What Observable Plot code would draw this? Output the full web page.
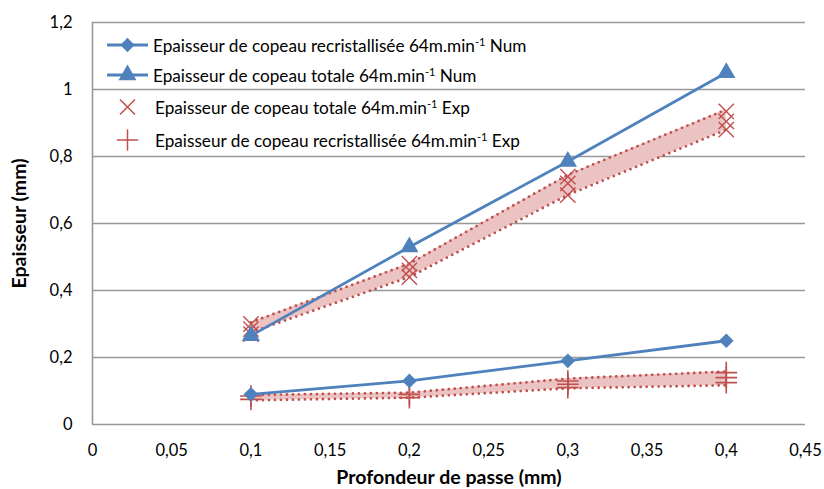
<!DOCTYPE html>
<html>
<head>
<meta charset="utf-8">
<script src="https://cdn.jsdelivr.net/npm/d3@7"></script>
<script src="https://cdn.jsdelivr.net/npm/@observablehq/plot@0.6"></script>
<style>
  html, body { margin: 0; padding: 0; background: #fff; }
  #wrap { position: relative; width: 824px; height: 489px; font-family: Lato, "Open Sans", sans-serif; }
  #wrap svg [aria-label="y-axis label"] text, #wrap svg [aria-label="x-axis label"] text { font-weight: bold; font-size: 19.5px; }
  #legend { position: absolute; left: 105px; top: 29px; font-size: 17.2px; color: #000; }
  .row { position: absolute; left: 0; height: 32px; white-space: nowrap; display: flex; align-items: center; }
  .row svg { flex: none; }
  .row span { margin-left: 4px; }
  sup { font-size: 11px; vertical-align: 6px; line-height: 0; }
</style>
</head>
<body>
<div id="wrap"></div>
<script>
// ---- data ----
const xs = [0.1, 0.2, 0.3, 0.4];
const numRecrist = [0.09, 0.13, 0.19, 0.25];
const numTotale = [0.265, 0.53, 0.785, 1.05];

const expTotaleX = [0.1, 0.1, 0.1, 0.2, 0.2, 0.2, 0.3, 0.3, 0.3, 0.4, 0.4, 0.4];
const expTotaleY = [0.30, 0.285, 0.27, 0.48, 0.46, 0.44, 0.74, 0.72, 0.685, 0.935, 0.905, 0.88];
const expTotaleHigh = [0.305, 0.48, 0.745, 0.94];
const expTotaleLow = [0.275, 0.44, 0.685, 0.88];

const expRecristX = [0.1, 0.1, 0.2, 0.2, 0.3, 0.3, 0.3, 0.4, 0.4, 0.4];
const expRecristY = [0.085, 0.075, 0.09, 0.08, 0.13, 0.12, 0.11, 0.155, 0.14, 0.125];
const expRecristHigh = [0.088, 0.095, 0.137, 0.158];
const expRecristLow = [0.072, 0.08, 0.108, 0.117];

const xTicks = [0, 0.05, 0.1, 0.15, 0.2, 0.25, 0.3, 0.35, 0.4, 0.45];
const yTicks = [0, 0.2, 0.4, 0.6, 0.8, 1, 1.2];

const legendLabels = [
  "Epaisseur de copeau recristallisée 64m.min<sup>-1</sup> Num",
  "Epaisseur de copeau totale 64m.min<sup>-1</sup> Num",
  "Epaisseur de copeau totale 64m.min<sup>-1</sup> Exp",
  "Epaisseur de copeau recristallisée 64m.min<sup>-1</sup> Exp"
];

// ---- tables ----
const num = xs.map((x, i) => ({x, rec: numRecrist[i], tot: numTotale[i]}));
const bandTot = xs.map((x, i) => ({x, lo: expTotaleLow[i], hi: expTotaleHigh[i]}));
const bandRec = xs.map((x, i) => ({x, lo: expRecristLow[i], hi: expRecristHigh[i]}));
const ptsTot = expTotaleX.map((x, i) => ({x, y: expTotaleY[i]}));
const ptsRec = expRecristX.map((x, i) => ({x, y: expRecristY[i]}));

const BLUE = "#4F81BD", RED = "#C0504D", PINK = "#EBC3C2", GRID = "#989898";
const fmt = d => String(d).replace(".", ",");
const dotted = {stroke: RED, strokeWidth: 2.8, strokeDasharray: "0,6", strokeLinecap: "round"};

const chart = Plot.plot({
  width: 824, height: 489,
  marginLeft: 92, marginRight: 19, marginTop: 22, marginBottom: 65,
  style: {fontFamily: "Lato, 'Open Sans', sans-serif", fontSize: "16.5px", color: "#000", background: "#fff"},
  x: {domain: [0, 0.45]},
  y: {domain: [0, 1.2]},
  marks: [
    Plot.gridY(yTicks, {stroke: GRID, strokeOpacity: 1, strokeWidth: 1.6}),
    Plot.ruleX([0], {stroke: GRID, strokeWidth: 1.6}),
    Plot.axisX({ticks: xTicks, tickFormat: fmt, tickSize: 0, tickPadding: 20, label: "Profondeur de passe (mm)", labelAnchor: "center", labelOffset: 59, labelArrow: "none"}),
    Plot.axisY({ticks: yTicks, tickFormat: fmt, tickSize: 0, tickPadding: 20, label: "Epaisseur (mm)", labelAnchor: "center", labelOffset: 80, labelArrow: "none"}),
    // bands
    Plot.areaY(bandTot, {x: "x", y1: "lo", y2: "hi", fill: PINK}),
    Plot.areaY(bandRec, {x: "x", y1: "lo", y2: "hi", fill: PINK}),
    Plot.line(bandTot, {x: "x", y: "hi", ...dotted}),
    Plot.line(bandTot, {x: "x", y: "lo", ...dotted}),
    Plot.line(bandRec, {x: "x", y: "hi", ...dotted}),
    Plot.line(bandRec, {x: "x", y: "lo", ...dotted}),
    // exp markers
    Plot.dot(ptsTot, {x: "x", y: "y", symbol: "times", r: 7, stroke: RED, strokeWidth: 1.4}),
    Plot.dot(ptsRec, {x: "x", y: "y", symbol: "plus", r: 7, stroke: RED, strokeWidth: 1.6}),
    // num lines
    Plot.line(num, {x: "x", y: "rec", stroke: BLUE, strokeWidth: 2.8}),
    Plot.line(num, {x: "x", y: "tot", stroke: BLUE, strokeWidth: 2.8}),
    Plot.dot(num, {x: "x", y: "rec", symbol: "diamond2", r: 6.6, fill: BLUE, stroke: "none"}),
    Plot.dot(num, {x: "x", y: "tot", symbol: "triangle", r: 6.8, fill: BLUE, stroke: "none"})
  ]
});

const wrap = document.getElementById("wrap");
wrap.appendChild(chart);

// legend (HTML overlay, symbols drawn with d3.symbol)
const legend = document.createElement("div");
legend.id = "legend";
wrap.appendChild(legend);
const symDefs = [
  {sym: d3.symbolDiamond2, fill: BLUE, line: true, size: 130},
  {sym: d3.symbolTriangle, fill: BLUE, line: true, size: 140},
  {sym: d3.symbolTimes, stroke: RED, line: false, size: 150},
  {sym: d3.symbolPlus, stroke: RED, line: false, size: 150}
];
const rowTops = [0, 30, 62, 95];
legendLabels.forEach((lab, i) => {
  const row = document.createElement("div");
  row.className = "row";
  row.style.top = rowTops[i] + "px";
  const s = symDefs[i];
  const path = d3.symbol(s.sym, s.size)();
  let inner = "";
  if (s.line) inner += `<line x1="2" x2="43" y1="16" y2="16" stroke="${BLUE}" stroke-width="2.8"/>`;
  inner += `<path transform="translate(22.5,16)" d="${path}" fill="${s.fill || "none"}" stroke="${s.stroke || "none"}" stroke-width="1.5"/>`;
  row.innerHTML = `<svg width="${s.line ? 44 : 46}" height="32">${inner}</svg><span>${lab}</span>`;
  legend.appendChild(row);
});
</script>
</body>
</html>
